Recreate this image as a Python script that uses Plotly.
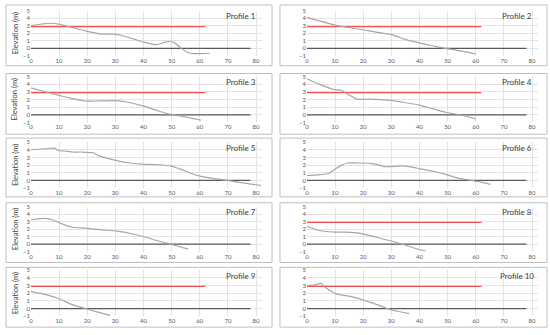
import plotly.graph_objects as go

# ---- data ----
profile_names = ["Profile 1", "Profile 2", "Profile 3", "Profile 4", "Profile 5",
                 "Profile 6", "Profile 7", "Profile 8", "Profile 9", "Profile 10"]

p1_x = [0, 4, 6.7, 10.3, 14.4, 19.7, 25, 29.8, 32, 36.9, 40.4, 44.6, 47.5, 49.3, 51, 53.4, 55.8, 58, 63.5]
p1_y = [3.04, 3.25, 3.35, 3.2, 2.8, 2.3, 1.9, 1.9, 1.75, 1.2, 0.8, 0.5, 0.8, 0.95, 0.75, 0.0, -0.55, -0.7, -0.65]

p2_x = [0, 9.8, 13.9, 19.8, 24.5, 29.9, 35.2, 39.9, 44.6, 49.3, 54, 59.9]
p2_y = [4.13, 3.13, 2.83, 2.48, 2.17, 1.83, 1.17, 0.74, 0.35, 0.0, -0.3, -0.74]

p3_x = [0, 5, 9.7, 14.4, 19.1, 22.7, 29.8, 34.5, 39.2, 44, 48.7, 53.4, 60.5]
p3_y = [3.5, 3.0, 2.56, 2.14, 1.8, 1.8, 1.85, 1.64, 1.22, 0.67, 0.13, -0.17, -0.71]

p4_x = [0, 4.5, 9.8, 12.2, 14.5, 18, 22.2, 29.9, 35.2, 39.9, 44.6, 49.3, 55.2, 59.9]
p4_y = [4.7, 3.97, 3.28, 3.2, 2.69, 2.04, 2.04, 1.87, 1.57, 1.27, 0.8, 0.33, -0.06, -0.53]

p5_x = [0, 5, 8.5, 9.7, 12, 15, 18, 22.1, 23.9, 25.7, 29.8, 34.5, 39.2, 45.2, 49.9, 53.4, 57, 60.5, 65.2, 69.9, 77.1, 81.8]
p5_y = [4.0, 4.13, 4.2, 3.9, 3.83, 3.7, 3.7, 3.6, 3.26, 3.04, 2.65, 2.3, 2.13, 2.04, 1.87, 1.43, 0.9, 0.52, 0.22, 0.0, -0.43, -0.65]

p6_x = [0, 3.8, 7.3, 9.7, 12, 14.4, 18, 22.7, 25, 27.4, 29.8, 33.3, 36.9, 40.4, 45.2, 49.9, 53.4, 57, 60.5, 65.2]
p6_y = [0.64, 0.73, 0.86, 1.4, 1.93, 2.27, 2.27, 2.23, 2.06, 1.8, 1.8, 1.89, 1.76, 1.5, 1.16, 0.73, 0.34, 0.09, -0.13, -0.52]

p7_x = [0, 5.3, 7.6, 10.6, 14.7, 19.4, 25.3, 30.6, 35.9, 40.6, 45.3, 50, 55.9]
p7_y = [3.26, 3.43, 3.26, 2.78, 2.26, 2.13, 1.91, 1.74, 1.39, 0.96, 0.43, -0.04, -0.65]

p8_x = [0, 4.5, 9.8, 13.9, 18.6, 22.2, 25.7, 29.9, 34, 38.7, 42.2]
p8_y = [2.4, 1.83, 1.61, 1.61, 1.48, 1.17, 0.83, 0.43, 0.0, -0.57, -0.91]

p9_x = [0, 5.3, 10, 14.7, 19.4, 24.1, 28.2]
p9_y = [2.26, 1.83, 1.3, 0.52, 0.0, -0.48, -0.87]

p10_x = [0, 2.6, 5, 6.1, 7.9, 10.3, 14.4, 18, 21.5, 25, 28.6, 32.1, 36.3]
p10_y = [3.0, 3.09, 3.3, 2.87, 2.44, 1.93, 1.67, 1.37, 0.94, 0.52, 0.0, -0.34, -0.64]

profiles_x = [p1_x, p2_x, p3_x, p4_x, p5_x, p6_x, p7_x, p8_x, p9_x, p10_x]
profiles_y = [p1_y, p2_y, p3_y, p4_y, p5_y, p6_y, p7_y, p8_y, p9_y, p10_y]

# reference levels
red_level_x = [0, 62]
red_level_y = [2.9, 2.9]
has_red = [True, True, True, True, False, False, False, True, True, True]
zero_x = [0, 78]
zero_y = [0, 0]

x_ticks = [0, 10, 20, 30, 40, 50, 60, 70, 80]
y_ticks = [-1, 0, 1, 2, 3, 4, 5]
y_title = "Elevation (m)"

# ---- layout geometry (pixels) ----
W, H = 550, 335
x0_px = [29, 306]          # pixel of x=0 in left/right column
px_per_unit = 2.825
x_max = 82
row_px = [(7, 53), (74, 121), (141, 188), (207, 253), (272, 319)]   # y=5 and y=-1 pixel rows
box_rows = [(1, 63), (71, 133), (137, 197), (203, 264), (269, 330)]
box_cols = [(4, 271), (279, 547)]

FONT = "Lato, 'Open Sans', sans-serif"
GRID = "#e3e3e3"

fig = go.Figure()
layout = dict(width=W, height=H, margin=dict(l=0, r=0, t=0, b=0),
              paper_bgcolor="white", plot_bgcolor="white", showlegend=False,
              font=dict(family=FONT, color="#595959"), hovermode=False)
annotations = []
shapes = []

for i in range(10):
    row, col = i // 2, i % 2
    k = i + 1
    xs = "" if k == 1 else str(k)
    xa, ya = "xaxis" + xs, "yaxis" + xs
    xr, yr = "x" + xs, "y" + xs
    x_left = x0_px[col]
    x_right = x_left + x_max * px_per_unit
    top, bot = row_px[row]
    layout[xa] = dict(domain=[x_left / W, x_right / W], range=[0, x_max], anchor=yr,
                      tickvals=x_ticks, showgrid=True, gridcolor=GRID, gridwidth=1,
                      zeroline=False, showline=False, ticks="",
                      tickfont=dict(size=6, color="#595959", family=FONT))
    layout[ya] = dict(domain=[1 - bot / H, 1 - top / H], range=[-1, 5], anchor=xr,
                      tickvals=y_ticks, showgrid=True, gridcolor=GRID, gridwidth=1,
                      zeroline=False, showline=False, ticks="",
                      tickfont=dict(size=6, color="#595959", family=FONT))
    # reference lines
    if has_red[i]:
        fig.add_trace(go.Scatter(x=red_level_x, y=red_level_y, mode="lines", xaxis=xr, yaxis=yr,
                                 line=dict(color="#f05050", width=1.3), hoverinfo="skip"))
    fig.add_trace(go.Scatter(x=zero_x, y=zero_y, mode="lines", xaxis=xr, yaxis=yr,
                             line=dict(color="#595959", width=1.3), hoverinfo="skip"))
    fig.add_trace(go.Scatter(x=profiles_x[i], y=profiles_y[i], mode="lines", xaxis=xr, yaxis=yr,
                             line=dict(color="#a6a6a6", width=1.2, shape="spline", smoothing=0.6)))
    annotations.append(dict(text=profile_names[i], x=74.5, y=4.25, xref=xr, yref=yr,
                            showarrow=False, font=dict(size=8, color="#404040", family=FONT)))
    # panel border
    bx0, bx1 = box_cols[col]
    by0, by1 = box_rows[row]
    shapes.append(dict(type="rect", xref="paper", yref="paper",
                       x0=bx0 / W, x1=bx1 / W, y0=1 - by1 / H, y1=1 - by0 / H,
                       line=dict(color="#bfbfbf", width=1), fillcolor="rgba(0,0,0,0)", layer="below"))
    if col == 0:
        annotations.append(dict(text=y_title, x=13 / W, y=1 - ((top + bot) / 2) / H,
                                xref="paper", yref="paper", showarrow=False, textangle=-90,
                                xanchor="center", yanchor="middle",
                                font=dict(size=7.5, color="#404040", family=FONT)))

layout["annotations"] = annotations
layout["shapes"] = shapes
fig.update_layout(**layout)
fig.write_html("out.html", config={"displayModeBar": False, "staticPlot": True},
               post_script="document.body.style.margin='0';document.body.style.padding='0';")
